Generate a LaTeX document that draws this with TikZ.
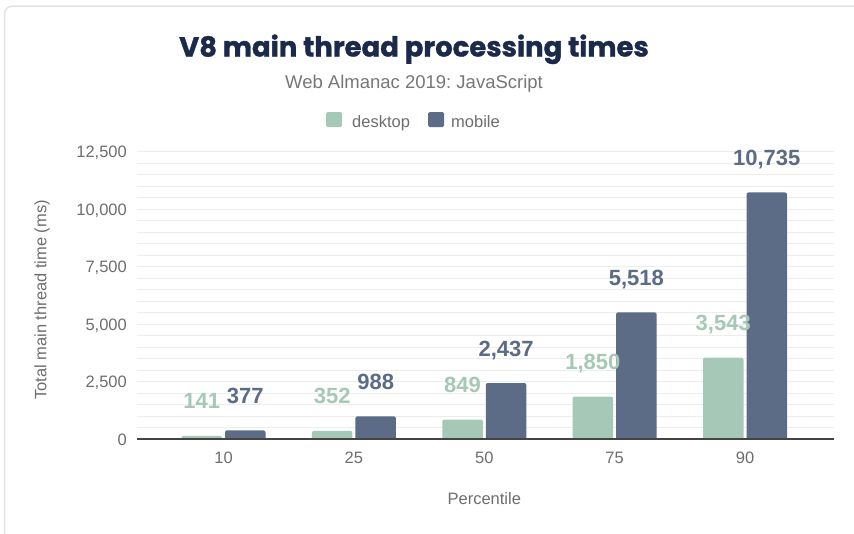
\documentclass[tikz,border=0pt]{standalone}
\usepackage{fontspec}
\setmainfont{Liberation Sans}
\newfontfamily\titlefont[BoldFeatures={FakeBold=1.2}]{Poppins}
\frenchspacing
\definecolor{deskc}{HTML}{A6C8B6}
\definecolor{mobc}{HTML}{5C6B86}
\definecolor{titlec}{HTML}{1B2A4A}
\definecolor{greyt}{HTML}{6E6E6E}
\definecolor{subc}{HTML}{777777}
\definecolor{gridc}{HTML}{EDEDED}
\definecolor{cardc}{HTML}{E3E3E3}
\definecolor{basec}{HTML}{444444}
\newcommand\mybar[4]{\fill[#4] (#1,439) [rounded corners=2pt] -- (#1,{439-0.02296*#3}) -- (#2,{439-0.02296*#3}) [sharp corners] -- (#2,439) -- cycle;}
\begin{document}
\begin{tikzpicture}[x=1pt,y=-1pt,
  ticklab/.style={font=\fontsize{16.5}{18}\selectfont, text=greyt, inner sep=0pt},
  vallab/.style={font=\bfseries\fontsize{22}{24}\selectfont, inner sep=0pt, anchor=base},
  legtext/.style={font=\fontsize{16.5}{18}\selectfont, text=greyt, inner sep=0pt, anchor=base west}]
\useasboundingbox (0,0) rectangle (854,533);
\fill[white] (0,0) rectangle (854,533);
\begin{scope}
\clip (0,0) rectangle (854,533);
\draw[cardc, line width=1.5pt, rounded corners=8pt] (4.5,6) rectangle (880,560);
\end{scope}
% title
\node[font=\titlefont\bfseries\fontsize{27.5}{32}\selectfont, text=titlec, anchor=base, inner sep=0pt] (title) at (414,56.5) {V8 main thread processing times};
\node[font=\fontsize{18.5}{22}\selectfont, text=subc, anchor=base, inner sep=0pt] (subtitle) at (414,88) {Web Almanac 2019: JavaScript};
% legend
\fill[deskc, rounded corners=1.5pt] (326,112) rectangle (342,127);
\node[legtext] (legd) at (352,127) {desktop};
\fill[mobc, rounded corners=1.5pt] (428,112) rectangle (444,127);
\node[legtext] (legm) at (451,127) {mobile};
% grid
\foreach \v in {500,1000,...,12500} {
  \draw[gridc, line width=1pt] (137,{439-0.02296*\v}) -- (834,{439-0.02296*\v});
}
% y tick labels
\node[ticklab, anchor=base east] (t0) at (127,445) {0};
\node[ticklab, anchor=base east] (t1) at (127,{445-0.02296*2500}) {2,500};
\node[ticklab, anchor=base east] (t2) at (127,{445-0.02296*5000}) {5,000};
\node[ticklab, anchor=base east] (t3) at (127,{445-0.02296*7500}) {7,500};
\node[ticklab, anchor=base east] (t4) at (127,{445-0.02296*10000}) {10,000};
\node[ticklab, anchor=base east] (t5) at (127,{445-0.02296*12500}) {12,500};
\node[ticklab, rotate=90] (ytitle) at (42,300) {Total main thread time (ms)};
% bars
\mybar{181.5}{222}{141}{deskc}
\mybar{225}{265.5}{377}{mobc}
\mybar{311.9}{352.4}{352}{deskc}
\mybar{355.4}{395.9}{988}{mobc}
\mybar{442.3}{482.8}{849}{deskc}
\mybar{485.8}{526.3}{2437}{mobc}
\mybar{572.6}{613.1}{1850}{deskc}
\mybar{616.1}{656.6}{5518}{mobc}
\mybar{703}{743.5}{3543}{deskc}
\mybar{746.5}{787}{10735}{mobc}
% baseline
\draw[basec, line width=1.5pt] (137,439) -- (834,439);
% value labels
\node[vallab, text=deskc] (d1) at (201.75,{439-0.02296*141-27}) {141};
\node[vallab, text=mobc] (m1) at (245.25,{439-0.02296*377-27}) {377};
\node[vallab, text=deskc] (d2) at (332.15,{439-0.02296*352-27}) {352};
\node[vallab, text=mobc] (m2) at (375.65,{439-0.02296*988-27}) {988};
\node[vallab, text=deskc] (d3) at (462.55,{439-0.02296*849-27}) {849};
\node[vallab, text=mobc] (m3) at (506.05,{439-0.02296*2437-27}) {2,437};
\node[vallab, text=deskc] (d4) at (592.85,{439-0.02296*1850-27}) {1,850};
\node[vallab, text=mobc] (m4) at (636.35,{439-0.02296*5518-27}) {5,518};
\node[vallab, text=deskc] (d5) at (723.25,{439-0.02296*3543-27}) {3,543};
\node[vallab, text=mobc] (m5) at (766.75,{439-0.02296*10735-27}) {10,735};
% x tick labels
\node[ticklab, anchor=base] (x1) at (223.5,463) {10};
\node[ticklab, anchor=base] (x2) at (353.9,463) {25};
\node[ticklab, anchor=base] (x3) at (484.3,463) {50};
\node[ticklab, anchor=base] (x4) at (614.6,463) {75};
\node[ticklab, anchor=base] (x5) at (745,463) {90};
\node[ticklab, anchor=base] (xtitle) at (484.3,504) {Percentile};
\end{tikzpicture}
\end{document}
